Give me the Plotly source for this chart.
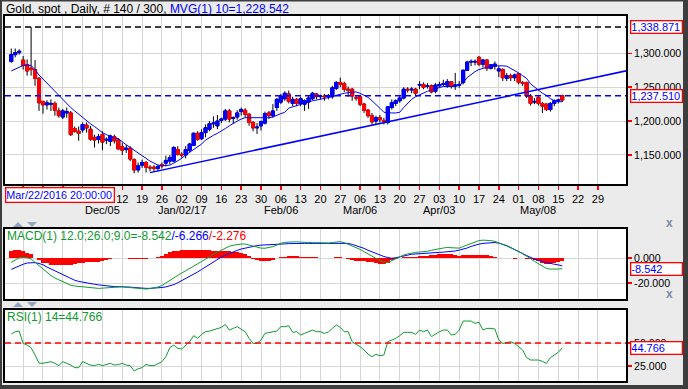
import plotly.graph_objects as go
import pandas as pd

# ---------------- data ----------------
trading_days = pd.bdate_range("2016-11-02", "2017-05-16")  # 140 daily bars
bar_count, bar_total = 140, 300

opens = [1288,1298,1301,1290,1283,1278,1276,1263,1229,1224,
         1225,1226,1215,1206,1212,1212,1189,1185,1187,1194,
         1188,1176,1173,1180,1172,1170,1177,1172,1162,1158,
         1160,1143,1128,1135,1139,1132,1132,1130,1136,1138,
         1141,1141,1158,1151,1150,1157,1164,1182,1174,1183,
         1188,1196,1193,1201,1203,1215,1204,1206,1214,1216,
         1210,1198,1190,1193,1197,1212,1208,1220,1228,1233,
         1240,1226,1232,1226,1225,1228,1233,1240,1236,1237,
         1236,1236,1248,1257,1255,1247,1247,1235,1236,1225,
         1216,1208,1200,1205,1201,1198,1220,1226,1230,1234,
         1247,1246,1247,1253,1254,1251,1252,1244,1252,1254,
         1253,1258,1252,1253,1257,1275,1287,1287,1294,1284,
         1290,1278,1281,1274,1276,1263,1267,1264,1270,1257,
         1257,1237,1228,1235,1226,1225,1217,1226,1230,1237.51]
highs = [1307,1307,1306,1296,1291,1338.871,1290,1265,1230,1231,
         1232,1229,1220,1218,1220,1215,1192,1192,1198,1198,
         1193,1180,1181,1185,1176,1180,1180,1175,1168,1165,
         1163,1145,1139,1143,1141,1135,1135,1136,1139,1149,
         1150,1163,1163,1154,1163,1168,1183,1185,1188,1195,
         1200,1207,1209,1205,1218,1218,1207,1216,1220,1219,
         1212,1200,1197,1201,1214,1215,1225,1234,1240,1244,
         1245,1236,1234,1236,1232,1237,1243,1241,1239,1240,
         1240,1252,1259,1264,1258,1251,1249,1238,1238,1227,
         1218,1212,1208,1209,1205,1222,1232,1232,1237,1250,
         1250,1250,1249,1259,1257,1256,1254,1256,1258,1261,
         1262,1259,1271,1259,1276,1289,1291,1291,1296,1292,
         1291,1284,1288,1281,1278,1271,1270,1270,1271,1259,
         1258,1240,1234,1237,1228,1226,1228,1232,1233,1239]
lows = [1286,1294,1298,1276,1267,1267,1252,1215,1211,1217,
        1215,1208,1205,1203,1205,1178,1183,1171,1183,1183,
        1171,1161,1167,1157,1166,1163,1167,1158,1150,1153,
        1141,1123,1124,1131,1124,1126,1125,1126,1130,1133,
        1136,1139,1149,1146,1145,1154,1163,1171,1172,1176,
        1185,1190,1188,1197,1200,1198,1196,1202,1208,1205,
        1193,1185,1181,1186,1195,1203,1205,1215,1225,1230,
        1226,1222,1222,1222,1215,1218,1231,1232,1232,1230,
        1232,1233,1246,1250,1243,1236,1230,1230,1222,1212,
        1205,1195,1194,1198,1195,1195,1217,1222,1227,1232,
        1242,1241,1237,1247,1247,1248,1241,1241,1249,1251,
        1249,1248,1246,1249,1254,1274,1281,1282,1281,1279,
        1274,1276,1276,1265,1259,1259,1259,1259,1254,1252,
        1234,1223,1225,1223,1212,1215,1214,1222,1226,1228]
closes = [1298,1301,1303,1282,1274,1276,1263,1227,1224,1227,
          1226,1216,1208,1215,1214,1180,1185,1182,1195,1190,
          1173,1172,1177,1169,1173,1178,1171,1159,1157,1160,
          1144,1128,1134,1139,1132,1131,1130,1133,1134,1142,
          1146,1161,1151,1150,1158,1166,1182,1173,1183,1190,
          1196,1197,1200,1203,1215,1203,1205,1212,1217,1210,
          1198,1190,1191,1199,1211,1208,1215,1232,1237,1241,
          1229,1232,1226,1233,1230,1234,1241,1236,1237,1236,
          1237,1249,1257,1254,1247,1245,1237,1234,1225,1216,
          1208,1199,1205,1202,1200,1221,1227,1230,1234,1247,
          1246,1247,1241,1254,1250,1252,1243,1253,1254,1255,
          1258,1251,1253,1254,1275,1287,1288,1288,1284,1290,
          1278,1283,1284,1277,1264,1267,1264,1268,1257,1256,
          1237,1226,1229,1226,1222,1217,1226,1230,1231,1231]

ma10 = [1274,1277,1280,1282,1282.5,1282,1276,1268,1262,1256,
        1250,1244,1238,1231,1225,1220,1215,1210,1205,1200,
        1196,1192,1187,1183,1180,1177,1175,1174,1169,1165,
        1161,1157,1153,1148,1144,1141,1138,1135,1134,1134,
        1135,1138,1141,1145,1150,1154,1157,1162,1166,1172,
        1176,1179,1182,1185,1189,1193,1197,1200,1203,1205,
        1205,1205,1204,1204,1204,1205,1206,1209,1211,1213,
        1219,1221,1223,1225,1227,1228,1230,1231,1232,1234,
        1235,1236,1238,1240,1241,1242,1242.5,1243,1241,1238,
        1235,1230,1225,1219,1213,1212,1212,1212,1213,1220,
        1226,1232,1236,1239,1242,1244,1246,1248,1249,1251,
        1251,1251,1251,1253,1257,1264,1269,1273,1276,1278,
        1279,1281,1281.5,1282,1281.5,1281,1278,1275,1271,1267,
        1263,1255,1250,1246,1241,1238,1233,1230,1228.5,1228.542]

macd_line = [-3.5,-1.5,0.2,0.4,0.2,-0.8,-3.5,-6.3,-9,-11.5,
             -14,-16,-17.4,-19,-20.8,-21.8,-22.4,-22.8,-23.2,-23.5,
             -23.8,-24.1,-24.3,-24.1,-23.8,-23.4,-23.1,-22.9,-23,-23.4,
             -23.8,-24.2,-24.6,-24.8,-24.8,-24.4,-23.9,-23.2,-22,-19.8,
             -17.6,-15.8,-13.9,-12,-10.3,-8.5,-6.6,-4.7,-2.8,-0.7,
             1,2.8,4.6,6.4,8,9.4,10.2,10.9,11.2,11.2,
             10.4,9.2,8.5,7.9,7.8,8.4,9.1,10.4,11.8,12.5,
             12.8,13.1,13,12.7,12.4,12.3,12.3,12.3,12.1,11.8,
             12,12.4,12.8,13.1,12.3,11,9.4,8,6.9,5.1,
             3.3,1.4,-0.3,-2.1,-3.3,-3.5,-2.1,-0.5,1,2.4,
             3.2,4,4.5,4.8,5,5.4,6.2,6.9,7.7,8,
             8.4,8.4,8,7.9,9.2,10.5,11.8,13,13.9,14.3,
             14.3,13.9,13.3,12.3,10.9,9.6,8.2,6.6,5.1,3.3,
             1.6,-0.5,-2.7,-4.6,-6.5,-8.3,-8.9,-9.1,-8.8,-8.542]
signal_line = [-9.1,-7.6,-6.2,-5,-4,-3.7,-3.7,-4.4,-5.4,-7.2,
               -8.7,-10.2,-11.8,-13.4,-15,-16.5,-17.8,-18.7,-19.4,-20,
               -20.5,-21,-21.5,-22,-22.4,-22.7,-22.9,-22.9,-22.9,-23.1,
               -23.3,-23.6,-24,-24.3,-24.3,-24.3,-24.2,-24,-23.6,-23.1,
               -22.3,-21.3,-19.8,-18.2,-16.6,-14.8,-13.4,-11.2,-9.2,-7.2,
               -5.1,-2.9,-1,0.8,2.3,3.7,5.1,6.1,7.2,8,
               8.8,9.6,9.9,10.3,10.4,10.4,10.4,10.7,11,11.3,
               11.5,11.7,11.7,11.7,11.7,11.7,11.7,11.7,11.8,11.8,
               11.9,12,12.1,12.1,12,11.7,10.9,10,9.1,7.7,
               6.2,4.8,3.5,2.3,1.2,0.4,-0.2,0.2,0.7,1.5,
               2.3,3,3.3,3.5,3.7,3.9,4.1,4.3,4.5,4.7,
               4.9,5.1,5.6,6.3,7,8,9.3,10.4,11.1,11.7,
               12.1,12.4,12.4,11.9,11.2,9.9,8.4,7,5.4,3.6,
               2,0.4,-0.9,-2,-2.9,-3.7,-4.5,-5,-5.5,-6.266]
macd_hist = [5.6,6.1,6.4,5.4,4.2,2.9,0.2,-1.9,-3.6,-4.3,
             -5.3,-5.8,-5.6,-5.6,-5.8,-5.3,-4.6,-4.1,-3.8,-3.5,
             -3.3,-3.1,-2.8,-2.1,-1.4,-0.7,-0.2,0,-0.1,-0.3,
             -0.5,-0.6,-0.6,-0.5,-0.5,-0.1,0.3,0.8,1.6,3.3,
             4.7,5.5,5.9,6.2,6.3,6.3,6.8,6.5,6.4,6.5,
             6.1,5.7,5.6,5.6,5.7,5.7,5.1,4.8,4,3.2,
             1.6,-0.4,-1.4,-2.4,-2.6,-2,-1.3,-0.3,0.8,1.2,
             1.3,1.4,1.3,1,0.7,0.6,0.6,0.6,0.3,0,
             0.1,0.4,0.7,1,0.3,-0.7,-1.5,-2,-2.2,-2.6,
             -2.9,-3.4,-3.8,-4.4,-4.5,-3.9,-1.9,-0.7,0.3,0.9,
             0.9,1,1.2,1.3,1.3,1.5,2.1,2.6,3.2,3.3,
             3.5,3.3,2.4,1.6,2.2,2.5,2.5,2.6,2.8,2.6,
             2.2,1.5,0.9,0.4,-0.3,-0.3,-0.2,-0.4,-0.3,-0.3,
             -0.4,-0.9,-1.8,-2.6,-3.6,-4.6,-4.4,-4.1,-3.3,-2.276]

rsi14 = [59.8,62.3,63,49.6,47.8,44.9,37,28,28,28.5,
         29.7,28,25.4,29.7,28,26.1,23.2,23.2,29.7,27.9,
         26,25.4,26.8,25.4,26.5,27.9,26.1,26.5,27.9,26,
         25.4,19.6,22,23.2,26.8,25.4,25.4,27.9,29.7,35.1,
         45,47.8,44.2,43.5,47.8,51.4,58,55.1,59.4,62.3,
         63,64.1,65.2,67,70.3,64.1,65.9,67.8,65,62.3,
         55.1,49.6,49.6,53.3,60.5,61.6,62,63,67.8,67.8,
         68.8,61.6,62.3,58.7,60.5,62,64.1,62.3,62.3,60.5,
         62,65.9,69.6,67,62.3,62.3,51.4,48.6,46,42.4,
         38,35.1,37.7,36.2,37,51.4,53.3,55.1,58,61.6,
         61.6,61.6,59.4,64.1,62.3,64.1,56.9,60,62.3,64.1,
         64.1,58.7,59.4,64.1,73.9,73.9,73.9,71.4,72.5,64.1,
         65.9,65.9,65.2,53.3,49.6,50.5,51.4,49.6,46,42.4,
         34.1,31.5,31.5,31.5,30,27.9,34.1,37,39.9,44.766]

trend_dates = ["2016-12-21 12:00", "2017-06-08 12:00"]
trend_values = [1124.0, 1275.2]
period_high = 1338.871
last_price = 1237.51
rsi_mid = 50
cursor_label = "Mar/22/2016 20:00:00"

week_ticks = pd.date_range("2016-11-07", "2017-05-29", freq="7D")
# first five Monday labels are hidden behind the cursor-date box in the original
week_labels = ["", "", "", "", "", "12", "19", "26",
               "02", "09", "16", "23", "30", "06", "13",
               "20", "27", "06", "13", "20", "27", "03",
               "10", "17", "24", "01", "08", "15", "22", "29"]
month_dates = ["2016-12-05", "2017-01-02", "2017-02-06", "2017-03-06", "2017-04-03", "2017-05-08"]
month_labels = ["Dec/05", "Jan/02/17", "Feb/06", "Mar/06", "Apr/03", "May/08"]

main_ticks = [1150, 1200, 1250, 1300]
main_labels = ["1,150.000", "1,200.000", "1,250.000", "1,300.000"]
macd_ticks = [0, -20]
macd_labels = ["0.000", "-20.000"]
rsi_ticks = [25, 50]
rsi_labels = ["25.000", "50.000"]

# ---------------- figure ----------------
W, H = 688, 389
def px(x):
    return x / W
def py(y):
    return 1 - y / H

half_day = pd.Timedelta(hours=12)
xs = trading_days + half_day
tick_x = week_ticks + half_day
x_range = ["2016-10-31 22:00", "2017-06-07 14:00"]
rb = [dict(bounds=["sat", "mon"])]

FONT = "Arial, Liberation Sans, sans-serif"
GRID = "#d6d6d6"
BLUE = "#0000ff"
RED = "#ff0000"
GREEN = "#109a30"
TICKSIZE = 10.6

body_hi = [max(o, c) for o, c in zip(opens, closes)]
body_lo = [min(o, c) for o, c in zip(opens, closes)]

fig = go.Figure()
# wicks
fig.add_trace(go.Candlestick(
    x=xs, open=opens, high=highs, low=lows, close=closes,
    increasing=dict(line=dict(color="black", width=1), fillcolor="black"),
    decreasing=dict(line=dict(color="black", width=1), fillcolor="black"),
    whiskerwidth=0, hoverinfo="skip", showlegend=False, xaxis="x", yaxis="y"))
# bodies
fig.add_trace(go.Candlestick(
    x=xs, open=opens, high=body_hi, low=body_lo, close=closes,
    increasing=dict(line=dict(color=BLUE, width=1), fillcolor=BLUE),
    decreasing=dict(line=dict(color=RED, width=1), fillcolor=RED),
    whiskerwidth=0, hoverinfo="skip", showlegend=False, xaxis="x", yaxis="y"))
fig.add_trace(go.Scatter(x=xs, y=ma10, mode="lines", line=dict(color=BLUE, width=1),
                         xaxis="x", yaxis="y", hoverinfo="skip"))
fig.add_trace(go.Scatter(x=pd.to_datetime(trend_dates), y=trend_values, mode="lines",
                         line=dict(color=BLUE, width=1.5), xaxis="x", yaxis="y", hoverinfo="skip"))

# MACD
fig.add_trace(go.Bar(x=xs, y=macd_hist, marker=dict(color=RED, line=dict(width=0)),
                     xaxis="x2", yaxis="y2", hoverinfo="skip"))
fig.add_trace(go.Scatter(x=xs, y=signal_line, mode="lines", line=dict(color=BLUE, width=1),
                         xaxis="x2", yaxis="y2", hoverinfo="skip"))
fig.add_trace(go.Scatter(x=xs, y=macd_line, mode="lines", line=dict(color=GREEN, width=1),
                         xaxis="x2", yaxis="y2", hoverinfo="skip"))
# RSI
fig.add_trace(go.Scatter(x=xs, y=rsi14, mode="lines", line=dict(color=GREEN, width=1),
                         xaxis="x3", yaxis="y3", hoverinfo="skip"))

xdom = [px(5), px(626)]
common_x = dict(type="date", range=x_range, rangebreaks=rb, domain=xdom,
                tickvals=tick_x, showgrid=True, gridcolor=GRID, gridwidth=1,
                showline=True, mirror=True, linecolor="black", linewidth=2,
                rangeslider=dict(visible=False), fixedrange=True)
common_y = dict(side="right", showgrid=True, gridcolor=GRID, gridwidth=1,
                showline=True, mirror=True, linecolor="black", linewidth=2,
                ticks="outside", ticklen=4, tickcolor=RED, tickwidth=1.5,
                zeroline=False, fixedrange=True,
                tickfont=dict(size=TICKSIZE, color="black", family=FONT))

fig.update_layout(
    width=W, height=H, margin=dict(l=0, r=0, t=0, b=0),
    paper_bgcolor="#ebebeb", plot_bgcolor="white",
    showlegend=False, bargap=0, boxgap=0.12, boxgroupgap=0.12,
    font=dict(family=FONT, size=11, color="black"),
    xaxis=dict(common_x, anchor="y", ticktext=week_labels, ticks="outside",
               ticklen=4, tickcolor=RED, tickwidth=1.5, tickangle=0,
               tickfont=dict(size=11, color="black", family=FONT)),
    yaxis=dict(common_y, anchor="x", domain=[py(184), py(16)], range=[1107.2, 1355.0],
               tickvals=main_ticks, ticktext=main_labels),
    xaxis2=dict(common_x, anchor="y2", showticklabels=False, ticks=""),
    yaxis2=dict(common_y, anchor="x2", domain=[py(299), py(229)], range=[-32.8, 23.2],
                tickvals=macd_ticks, ticktext=macd_labels),
    xaxis3=dict(common_x, anchor="y3", showticklabels=False, ticks=""),
    yaxis3=dict(common_y, anchor="x3", domain=[py(381), py(310)], range=[8.7, 85.9],
                tickvals=rsi_ticks, ticktext=rsi_labels),
)

shapes = [
    dict(type="line", xref="x domain", yref="y", x0=0, x1=1, y0=period_high, y1=period_high,
         line=dict(color="black", width=1.5, dash="6px,4px")),
    dict(type="line", xref="x domain", yref="y", x0=0, x1=1, y0=last_price, y1=last_price,
         line=dict(color=BLUE, width=1.5, dash="6px,4px")),
    dict(type="line", xref="x3 domain", yref="y3", x0=0, x1=1, y0=rsi_mid, y1=rsi_mid,
         line=dict(color=RED, width=1.5, dash="6px,4px")),
    # window frame
    dict(type="rect", xref="paper", yref="paper", x0=px(683), x1=1, y0=0, y1=1,
         fillcolor="#3d3d3d", line=dict(width=0), layer="above"),
    dict(type="rect", xref="paper", yref="paper", x0=0, x1=1, y0=0, y1=py(385),
         fillcolor="#3d3d3d", line=dict(width=0), layer="above"),
    dict(type="rect", xref="paper", yref="paper", x0=0, x1=px(2), y0=0, y1=1,
         fillcolor="#3d3d3d", line=dict(width=0), layer="above"),
    dict(type="rect", xref="paper", yref="paper", x0=0, x1=1, y0=py(1.5), y1=1,
         fillcolor="#3d3d3d", line=dict(width=0), layer="above"),
]
# small panel arrows
for ya in (222, 302):
    shapes.append(dict(type="path", xref="paper", yref="paper", layer="above",
                       path=f"M {px(13)} {py(ya+5)} L {px(23)} {py(ya+5)} L {px(18)} {py(ya)} Z",
                       fillcolor="#93a5c0", line=dict(width=0)))
    shapes.append(dict(type="path", xref="paper", yref="paper", layer="above",
                       path=f"M {px(27)} {py(ya)} L {px(37)} {py(ya)} L {px(32)} {py(ya+5)} Z",
                       fillcolor="#93a5c0", line=dict(width=0)))
fig.update_layout(shapes=shapes)

def box(text, y, yref):
    return dict(text=text, xref="paper", x=px(629.5), xanchor="left", yref=yref, y=y,
                yanchor="middle", showarrow=False, align="left", width=50, height=11,
                font=dict(color=BLUE, size=TICKSIZE + 0.4, family=FONT), bgcolor="white",
                bordercolor=RED, borderwidth=1.3, borderpad=0)

annotations = [
    dict(text=(f"Gold, spot , Daily, # {bar_count} / {bar_total}, "
               f"<span style='color:{BLUE}'>MVG(1) 10={ma10[-1]:,.3f}</span>"),
         xref="paper", yref="paper", x=px(4), y=py(8.5), xanchor="left", yanchor="middle",
         showarrow=False, font=dict(size=12, color="black", family=FONT)),
    dict(text=(f"<span style='color:{GREEN}'>MACD(1) 12.0;26.0;9.0={macd_line[-1]:.3f}</span>"
               f"<span style='color:{BLUE}'>/{signal_line[-1]:.3f}</span>"
               f"<span style='color:{RED}'>/{macd_hist[-1]:.3f}</span>"),
         xref="paper", yref="paper", x=px(5), y=py(236), xanchor="left", yanchor="middle",
         showarrow=False, font=dict(size=12, family=FONT)),
    dict(text=f"RSI(1) 14={rsi14[-1]:.3f}", xref="paper", yref="paper", x=px(5), y=py(317),
         xanchor="left", yanchor="middle", showarrow=False,
         font=dict(size=12, color=GREEN, family=FONT)),
    box(f"{period_high:,.3f}", period_high, "y"),
    box(f"{last_price:,.3f}", last_price, "y"),
    box(f"{macd_line[-1]:.3f}", macd_line[-1], "y2"),
    box(f"{rsi14[-1]:.3f}", rsi14[-1], "y3"),
    dict(text=cursor_label, xref="paper", yref="paper", x=px(5), y=py(195),
         xanchor="left", yanchor="middle", showarrow=False, align="left", width=107, height=13,
         font=dict(color=BLUE, size=10.8, family=FONT), bgcolor="white",
         bordercolor=RED, borderwidth=1.3, borderpad=0),
    dict(text="<b>x</b>", xref="paper", yref="paper", x=px(675), y=py(223.5),
         showarrow=False, font=dict(color="#7d8ca6", size=12, family=FONT)),
    dict(text="<b>x</b>", xref="paper", yref="paper", x=px(675), y=py(303),
         showarrow=False, font=dict(color="#7d8ca6", size=12, family=FONT)),
]
for d, lab in zip(month_dates, month_labels):
    annotations.append(dict(text=lab, xref="x", yref="paper",
                            x=pd.Timestamp(d) + half_day, y=py(210),
                            xanchor="center", yanchor="middle", showarrow=False,
                            font=dict(size=11, color="black", family=FONT)))
fig.update_layout(annotations=annotations)

fig.write_html("out.html", config={"displayModeBar": False, "staticPlot": True},
               post_script="document.body.style.margin='0';document.body.style.overflow='hidden';")
